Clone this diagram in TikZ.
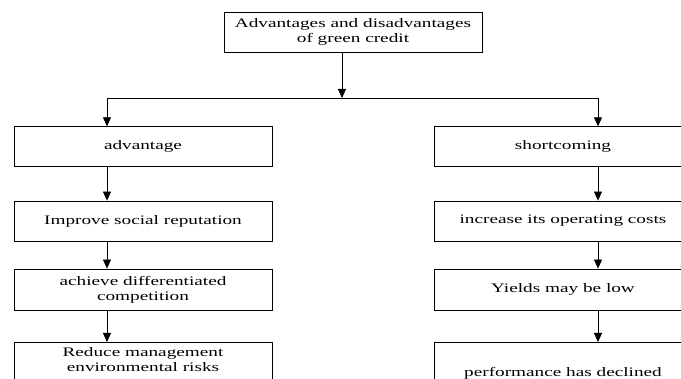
\documentclass[tikz,border=0pt]{standalone}
\usepackage{fontspec}
\setmainfont{Liberation Serif}[FakeStretch=1.48]
\usetikzlibrary{arrows.meta}
\tikzset{
  box/.style={draw=black, line width=0.8pt, minimum width=258pt, inner xsep=2pt, inner ysep=0pt,
    align=center, font=\fontsize{13}{15}\selectfont},
  arr/.style={line width=0.8pt, -{Triangle[width=8pt,length=9pt]}},
  ln/.style={line width=0.8pt}
}
\begin{document}
\begin{tikzpicture}[x=1pt,y=-1pt]
\path[use as bounding box] (0,0) rectangle (681,379);
\clip (0,0) rectangle (681,379);
% column x positions for connectors
\coordinate (tx) at (342,0);
\coordinate (lx) at (107,0);
\coordinate (rx) at (598,0);
\coordinate (j) at (342,98);
\coordinate (jl) at (107,98);
\coordinate (jr) at (598,98);
% top
\node[box, minimum height=40pt] (top) at (353,32) {Advantages and disadvantages\\of green credit};
% left column
\node[box, minimum height=39.5pt] (l1) at (143,146.5) {advantage};
\node[box, minimum height=40pt] (l2) at (143,221) {Improve social reputation};
\node[box, minimum height=41pt] (l3) at (143,289.5) {achieve differentiated\\competition};
\node[box, anchor=north, inner ysep=3pt, text height=26.5pt, text depth=40pt] (l4) at (143,342) {Reduce management\\environmental risks};
% right column
\node[box, minimum height=39.5pt] (r1) at (563,146.5) {shortcoming};
\node[box, minimum height=40pt] (r2) at (563,221) {increase its operating costs};
\node[box, minimum height=41pt] (r3) at (563,289.5) {Yields may be low};
\node[box, anchor=north, inner ysep=3pt, text height=31.5pt, text depth=40pt] (r4) at (563,342) {performance has declined};
% connectors
\draw[arr] (top.south -| tx) -- (j);
\draw[ln] (jl) -- (jr);
\draw[arr] (jl) -- (l1.north -| lx);
\draw[arr] (jr) -- (r1.north -| rx);
\draw[arr] (l1.south -| lx) -- (l2.north -| lx);
\draw[arr] (l2.south -| lx) -- (l3.north -| lx);
\draw[arr] (l3.south -| lx) -- (l4.north -| lx);
\draw[arr] (r1.south -| rx) -- (r2.north -| rx);
\draw[arr] (r2.south -| rx) -- (r3.north -| rx);
\draw[arr] (r3.south -| rx) -- (r4.north -| rx);
\end{tikzpicture}
\end{document}
